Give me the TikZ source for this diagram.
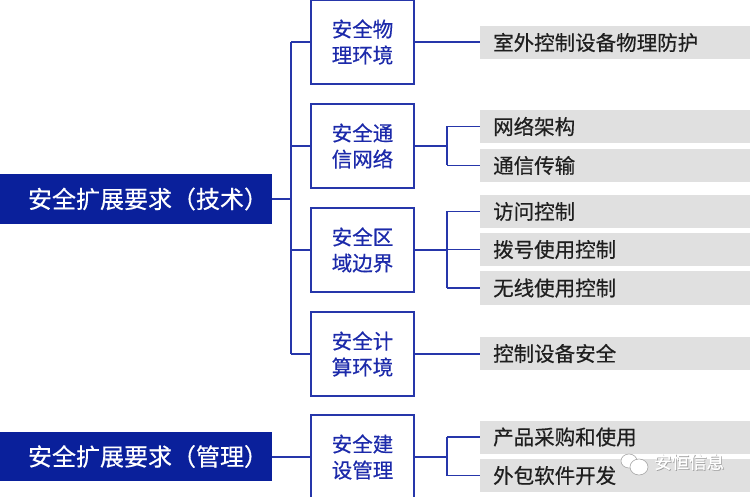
\documentclass[tikz,border=0pt]{standalone}
\usepackage{fontspec}
\setmainfont{Noto Sans CJK SC}[FakeBold=0.45]
\usepackage{tikz}
\usetikzlibrary{calc,positioning}

\definecolor{deepblue}{RGB}{10,32,155}
\definecolor{linkblue}{RGB}{38,54,170}
\definecolor{textblue}{RGB}{28,42,170}
\definecolor{itemgray}{RGB}{224,224,224}

\tikzset{
    mainbox/.style={fill=deepblue,text=white,minimum width=272pt,minimum height=50pt,inner sep=0pt,font=\fontsize{24}{27}\selectfont},
    areabox/.style={draw=linkblue,line width=1.3pt,fill=white,text=textblue,minimum width=103pt,minimum height=84pt,align=center,inner sep=0pt,font=\fontsize{20.5}{26}\selectfont},
    itembox/.style={fill=itemgray,text=black!88,anchor=west,text width=244pt,inner xsep=13pt,minimum height=33pt,inner ysep=0pt,align=left,font=\fontsize{20.5}{24}\selectfont},
    link/.style={draw=linkblue,line width=1.5pt}
}

\begin{document}
\begin{tikzpicture}[x=1pt,y=-1pt]
            \useasboundingbox[fill=white] (0,0) rectangle (750,497);
            % left column
            \node[mainbox] (tech) at (136,199) {\hspace*{24pt}安全扩展要求（技术）};
            \node[mainbox,minimum height=49pt] (mgmt) at (136,456.5) {\hspace*{24pt}安全扩展要求（管理）};
            % middle column
            \node[areabox] (phy) at (362.5,42) {安全物\\理环境};
            \node[areabox] (net) at (362.5,146) {安全通\\信网络};
            \node[areabox] (bnd) at (362.5,250) {安全区\\域边界};
            \node[areabox] (cmp) at (362.5,354) {安全计\\算环境};
            \node[areabox] (bld) at (362.5,457) {安全建\\设管理};
            % right column
            \node[itembox] (phy1) at (480,42.5) {室外控制设备物理防护};
            \node[itembox] (net1) at (480,126.5) {网络架构};
            \node[itembox] (net2) at (480,165.5) {通信传输};
            \node[itembox] (bnd1) at (480,211.5) {访问控制};
            \node[itembox] (bnd2) at (480,249.5) {拨号使用控制};
            \node[itembox] (bnd3) at (480,288) {无线使用控制};
            \node[itembox] (cmp1) at (480,353.5) {控制设备安全};
            \node[itembox] (bld1) at (480,437) {产品采购和使用};
            \node[itembox] (bld2) at (480,475.5) {外包软件开发};
            % trunk
            \coordinate (trunk) at (291,199);
            \draw[link] (tech.east) -- (trunk);
            \draw[link] (trunk |- phy.west) -- (trunk |- cmp.west);
            \foreach \a in {phy,net,bnd,cmp}
                \draw[link] (trunk |- \a.west) -- (\a.west);
            \draw[link] (mgmt.east |- bld.west) -- (bld.west);
            % branches
            \draw[link] (phy.east) -- (phy1.west |- phy.east);
            \coordinate (split) at (447,0);
            \draw[link] (net.east) -- (split |- net.east);
            \draw[link] (split |- net1.west) -- (split |- net2.west);
            \foreach \b in {net1,net2}
                \draw[link] (split |- \b.west) -- (\b.west);
            \draw[link] (bnd.east) -- (split |- bnd.east);
            \draw[link] (split |- bnd1.west) -- (split |- bnd3.west);
            \foreach \b in {bnd1,bnd2,bnd3}
                \draw[link] (split |- \b.west) -- (\b.west);
            \draw[link] (cmp.east) -- (cmp1.west |- cmp.east);
            \draw[link] (bld.east) -- (split |- bld.east);
            \draw[link] (split |- bld1.west) -- (split |- bld2.west);
            \foreach \b in {bld1,bld2}
                \draw[link] (split |- \b.west) -- (\b.west);
            % watermark
            \draw[fill=white,draw=gray!70,line width=0.6pt] (629,461) ellipse (8pt and 7pt);
            \draw[fill=white,draw=gray!70,line width=0.6pt] (639,467) ellipse (9pt and 8pt);
            \node[text=gray!75,font=\fontsize{17.5}{18}\selectfont,anchor=west,inner sep=0pt] at (654.8,462.8) {安恒信息};
            \node[text=white,font=\fontsize{17.5}{18}\selectfont,anchor=west,inner sep=0pt] (mark) at (654,462) {安恒信息};
        \end{tikzpicture}
\end{document}
